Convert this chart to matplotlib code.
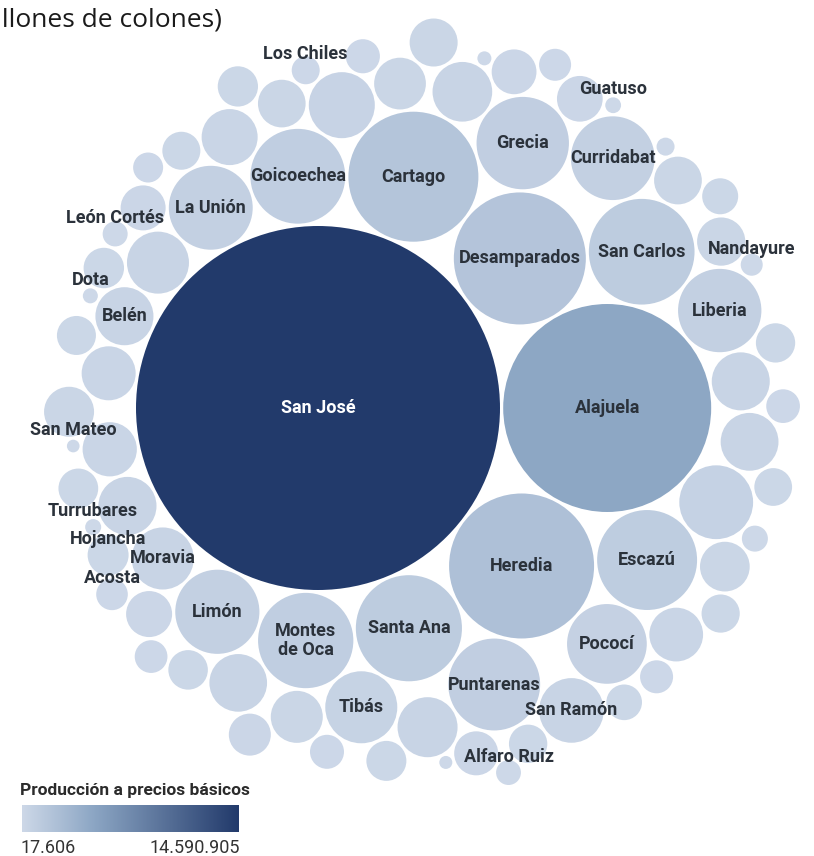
import math
import numpy as np
import matplotlib
matplotlib.use("Agg")
import matplotlib.pyplot as plt
from matplotlib.patches import Circle
from matplotlib.colors import LinearSegmentedColormap, Normalize

# Producción a precios básicos por cantón (millones de colones)
big_names = ["San José", "Alajuela", "Heredia", "Desamparados", "Cartago",
             "Santa Ana", "San Carlos", "Escazú", "Montes\nde Oca", "Goicoechea",
             "Grecia", "Puntarenas", "Limón", "La Unión", "Curridabat",
             "Liberia", "Pococí", "Tibás", "San Ramón", "Moravia", "Belén"]
big_values = [14590905, 4764000, 2315000, 1919000, 1861000,
              1240000, 1230000, 1100000, 1000000, 990000,
              940000, 930000, 780000, 775000, 772000,
              765000, 700000, 571000, 460000, 424000, 371000]

# cantons labelled just above their bubble
small_names = ["Los Chiles", "Guatuso", "Nandayure", "León Cortés", "Dota",
               "San Mateo", "Turrubares", "Hojancha", "Acosta", "Alfaro Ruiz"]
small_values = [86300, 27500, 53300, 68800, 24800,
                17606, 28200, 185100, 110000, 68000]

# remaining cantons, drawn without a label
other_values = [480000, 370500, 321100, 318000, 253700, 194300, 167500, 159000,
                112800, 74400, 176200, 223000, 178500, 366000, 142700, 324000,
                127300, 297800, 172000, 372000, 162000,
                251000, 21600, 275300, 157000, 213200, 125000, 140000, 396500,
                119900, 368000, 35700, 423300, 221000, 600000, 118000, 256000,
                180000, 272000,
                99100, 174000, 345400, 250000, 295000, 160500, 18600, 392000,
                233000, 170000, 128000, 230000]

legend_title = "Producción a precios básicos"
legend_min_label = "17.606"
legend_max_label = "14.590.905"

W, H = 814, 856
SJ_PX = (318.0, 408.0)   # centre of the largest bubble, pixels from top-left
SJ_R_PX = 182.0          # its radius in pixels
GAP_PX = 1.6             # half the white gap between bubbles


# ---- front-chain circle packing (same scheme as d3.packSiblings) ----
def pack_siblings(radii):
    n = len(radii)
    X = [0.0] * n
    Y = [0.0] * n
    R = list(radii)

    def place(b, a, c):
        dx = X[b] - X[a]
        dy = Y[b] - Y[a]
        d2 = dx * dx + dy * dy
        if d2:
            a2 = (R[a] + R[c]) ** 2
            b2 = (R[b] + R[c]) ** 2
            if a2 > b2:
                x = (d2 + b2 - a2) / (2 * d2)
                y = math.sqrt(max(0.0, b2 / d2 - x * x))
                X[c] = X[b] - x * dx - y * dy
                Y[c] = Y[b] - x * dy + y * dx
            else:
                x = (d2 + a2 - b2) / (2 * d2)
                y = math.sqrt(max(0.0, a2 / d2 - x * x))
                X[c] = X[a] + x * dx - y * dy
                Y[c] = Y[a] + x * dy + y * dx
        else:
            X[c] = X[a] + R[c]
            Y[c] = Y[a]

    def intersects(p, q):
        dr = R[p] + R[q] - 1e-6
        dx = X[q] - X[p]
        dy = Y[q] - Y[p]
        return dr > 0 and dr * dr > dx * dx + dy * dy

    nxt, prv = {}, {}

    def score(nd):
        b = nxt[nd]
        ab = R[nd] + R[b]
        dx = (X[nd] * R[b] + X[b] * R[nd]) / ab
        dy = (Y[nd] * R[b] + Y[b] * R[nd]) / ab
        return dx * dx + dy * dy

    X[0] = -R[1]
    X[1] = R[0]
    place(1, 0, 2)
    a, b, c = 0, 1, 2
    nxt[a] = b; prv[c] = b
    nxt[b] = c; prv[a] = c
    nxt[c] = a; prv[b] = a

    i = 3
    while i < n:
        place(a, b, i)
        j, k = nxt[b], prv[a]
        sj, sk = R[b], R[a]
        retry = False
        while True:
            if sj <= sk:
                if intersects(j, i):
                    b = j; nxt[a] = b; prv[b] = a
                    retry = True
                    break
                sj += R[j]; j = nxt[j]
            else:
                if intersects(k, i):
                    a = k; nxt[a] = b; prv[b] = a
                    retry = True
                    break
                sk += R[k]; k = prv[k]
            if j == nxt[k]:
                break
        if retry:
            continue
        prv[i] = a; nxt[i] = b; nxt[a] = i; prv[b] = i
        b = i
        aa = score(a)
        cc = i
        while True:
            cc = nxt[cc]
            if cc == b:
                break
            ca = score(cc)
            if ca < aa:
                a, aa = cc, ca
        b = nxt[a]
        i += 1
    return np.array(X), np.array(Y)


# ---- assemble and sort descending by value ----
names = big_names + small_names + [""] * len(other_values)
values = np.array(big_values + small_values + other_values, dtype=float)
kind = ["big"] * len(big_values) + ["small"] * len(small_values) + ["other"] * len(other_values)
order = sorted(range(len(values)), key=lambda t: -values[t])
names = [names[t] for t in order]
kind = [kind[t] for t in order]
values = values[order]

radius = np.sqrt(values)
scale = SJ_R_PX / radius[0]            # pixels per packing unit
pad = GAP_PX / scale
cx, cy = pack_siblings(radius + pad)

# ---- colour scale ----
cmap = LinearSegmentedColormap.from_list(
    "prod", [(0.0, "#cdd8e8"), (0.33, "#8ca6c4"), (1.0, "#223a6b")])
norm = Normalize(vmin=values.min(), vmax=values.max())

fig = plt.figure(figsize=(W / 100, H / 100), dpi=100)
ax = fig.add_axes([0, 0, 1, 1])
ax.set_xlim(cx[0] - SJ_PX[0] / scale, cx[0] + (W - SJ_PX[0]) / scale)
ax.set_ylim(cy[0] + (H - SJ_PX[1]) / scale, cy[0] - SJ_PX[1] / scale)
ax.set_aspect("equal")
ax.axis("off")

label_font = ["Roboto", "DejaVu Sans"]

for x, y, r, v, nm, kd in zip(cx, cy, radius, values, names, kind):
    ax.add_patch(Circle((x, y), r, facecolor=cmap(norm(v)), edgecolor="none"))
    if kd == "big":
        col = "white" if v > 0.6 * values.max() else "#2b323b"
        ax.text(x, y, nm, ha="center", va="center", fontsize=13,
                family=label_font, fontweight="bold", color=col,
                linespacing=1.05)
    elif kd == "small":
        ax.text(x, y - 16 / scale, nm, ha="center", va="center", fontsize=13,
                family=label_font, fontweight="bold", color="#2b323b")

# ---- heading (runs off the left edge) ----
fig.text(222 / W, 1 - 20 / H, "(millones de colones)", ha="right", va="center",
         fontsize=19, family=["Open Sans", "DejaVu Sans"], color="#1a1a1a")

# ---- colour legend ----
fig.text(20 / W, 1 - 790 / H, legend_title, ha="left", va="center",
         fontsize=12.5, family=label_font, fontweight="bold", color="#2b2b2b")
cax = fig.add_axes([22 / W, 1 - 832 / H, 217 / W, 27 / H])
cax.imshow(np.linspace(0, 1, 256)[None, :], cmap=cmap, aspect="auto",
           extent=[0, 1, 0, 1])
cax.axis("off")
fig.text(20 / W, 1 - 848 / H, legend_min_label, ha="left", va="center",
         fontsize=13, family=label_font, color="#333333")
fig.text(240 / W, 1 - 848 / H, legend_max_label, ha="right", va="center",
         fontsize=13, family=label_font, color="#333333")

fig.savefig("out.png", dpi=100, facecolor="white")
